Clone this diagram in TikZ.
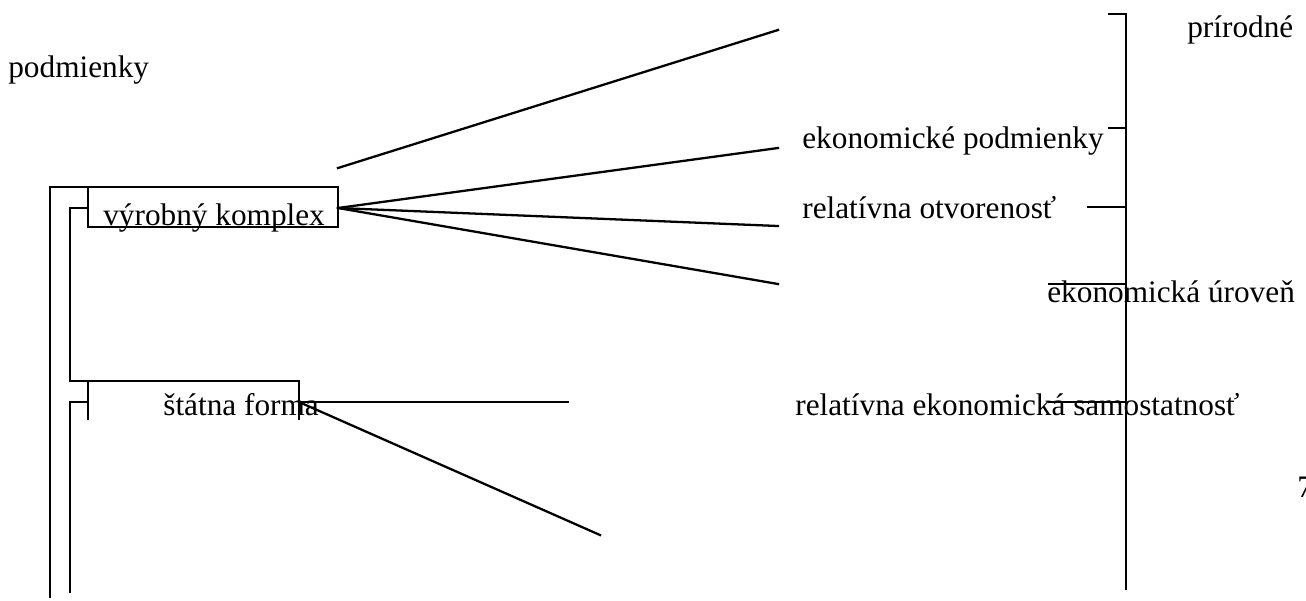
\documentclass[tikz,border=0pt]{standalone}
\usepackage{fontspec}
\setmainfont{Liberation Serif}
\usepackage{tikz}
\usetikzlibrary{positioning}

\begin{document}
\begin{tikzpicture}[
        x=0.02cm, y=-0.02cm,
        label/.style={anchor=base west, inner sep=0pt, font=\fontsize{17.8}{21}\selectfont},
        link/.style={line width=1.3pt, line cap=rect},
        bracket/.style={line width=1.3pt}
    ]
    \useasboundingbox (0,0) rectangle (1306,600);

    % Labels
    \node[label] (prirodne) at (1187,37) {prírodné};
    \node[label] (podm) at (8,77) {podmienky};
    \node[label] (ekpodm) at (802,148) {ekonomické podmienky};
    \node[label] (otvor) at (802,218) {relatívna otvorenosť};
    \node[label] (uroven) at (1047,302) {ekonomická úroveň};
    \node[label] (samost) at (795,415) {relatívna ekonomická samostatnosť};
    \node[label] (seven) at (1297,497) {7};
    \node[label] (vyrob) at (103,225) {výrobný komplex};
    \node[label] (statna) at (163,415) {štátna forma};

    % Hubs and free ends
    \coordinate (hubA) at (338,208);
    \coordinate (hubB) at (299,402);
    \coordinate (topA) at (338,168);
    \coordinate (endA) at (778,30);
    \coordinate (endB) at (778,148);
    \coordinate (endC) at (778,226);
    \coordinate (endD) at (778,284);
    \coordinate (endE) at (568,402);
    \coordinate (endF) at (600,535);

    % Fan lines
    \draw[link] (topA) -- (endA);
    \foreach \e in {endB,endC,endD} {
        \draw[link] (hubA) -- (\e);
    }
    \draw[link] (hubB) -- (endE);
    \draw[link] (hubB) -- (endF);

    % Right bracket
    \draw[bracket] (1108,14) -- (1126,14) -- (1126,590);
    \draw[bracket] (1108,128) -- (1126,128);
    \draw[bracket] (1087,207) -- (1126,207);
    \draw[bracket] (1048,284) -- (1126,284);
    \draw[bracket] (1048,402) -- (1126,402);

    % Left brackets and boxes
    \draw[bracket] (50,598) -- (50,187) -- (88,187);
    \draw[bracket] (88,227) -- (88,187) -- (338,187) -- (338,227) -- cycle;
    \draw[bracket] (88,208) -- (70,208) -- (70,381) -- (299,381) -- (299,420);
    \draw[bracket] (88,381) -- (88,420);
    \draw[bracket] (88,402) -- (70,402) -- (70,593);
\end{tikzpicture}
\end{document}
